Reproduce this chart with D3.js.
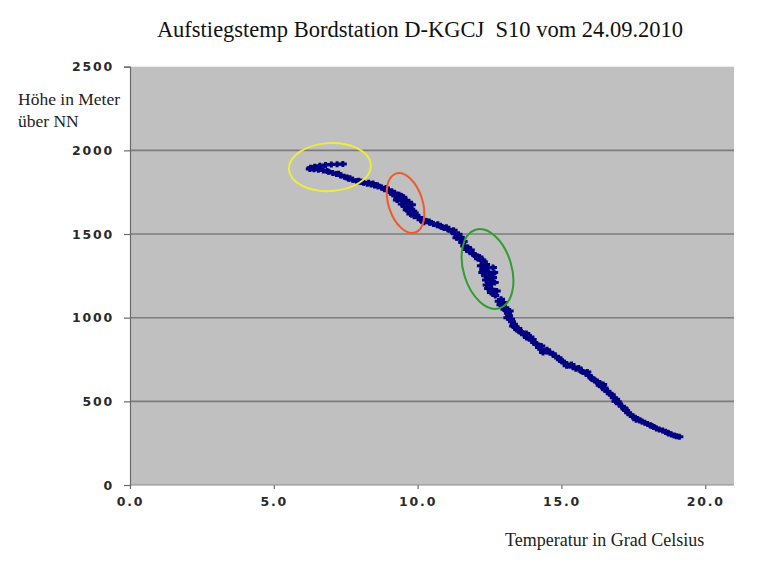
<!DOCTYPE html>
<html>
<head>
<meta charset="utf-8">
<script src="https://cdn.jsdelivr.net/npm/d3@7"></script>
<style>
  html, body { margin: 0; padding: 0; background: #ffffff; }
  svg { display: block; }
</style>
</head>
<body>
<svg id="chart" width="768" height="569"></svg>
<script>
// ---------------- data ----------------
const titleText = "Aufstiegstemp Bordstation D-KGCJ  S10 vom 24.09.2010";
const yAxisTitle = ["Höhe in Meter", "über NN"];
const xAxisTitle = "Temperatur in Grad Celsius";

const xTicks = [0, 5, 10, 15, 20];
const yTicks = [0, 500, 1000, 1500, 2000, 2500];

// Temperature (°C) of each logged sample
const temperature = [
  7.40,7.20,7.00,6.80,6.60,6.42,6.28,6.25,6.40,6.55,6.72,6.90,7.05,7.18,7.32,7.45,7.60,7.74,7.88,8.00,
  8.12,8.25,8.38,8.50,8.62,8.75,8.85,8.95,9.05,9.15,9.22,9.32,9.40,9.48,9.58,9.65,9.72,9.78,9.85,9.95,
  10.05,10.18,10.30,10.42,10.55,10.68,10.80,10.92,11.05,11.18,11.30,11.40,11.47,11.55,11.62,11.70,11.80,11.92,12.05,12.18,
  12.30,12.38,12.44,12.48,12.50,12.52,12.58,12.70,12.82,12.95,13.08,13.18,13.28,13.38,13.52,13.70,13.88,14.05,14.22,14.40,
  14.60,14.80,15.02,15.25,15.50,15.75,15.95,16.15,16.33,16.52,16.68,16.82,16.96,17.10,17.25,17.40,17.56,17.72,17.90,18.10,
  18.30,18.52,18.72,18.92,19.10,
  6.35,6.60,6.85,7.25,7.55,7.95,8.30,8.60,8.90,9.10,
  9.20,9.30,9.45,9.55,9.70,9.80,9.62,9.90,9.75,9.50,9.35,
  10.10,10.40,10.70,11.00,11.25,11.35,11.50,11.60,11.75,11.85,12.00,12.15,
  12.25,12.20,12.30,12.25,12.35,12.62,12.66,12.62,12.38,12.40,12.45,12.68,12.55,12.75,
  12.90,12.98,13.05,13.20,13.12,13.25,13.35,13.50,13.60,13.78,13.80,14.00,14.15,14.30,14.30,14.50,14.70,14.90,15.10,15.35,
  15.60,15.85,15.90,16.05,16.25,16.40,16.45,16.60,16.75,16.90,17.00,17.18,17.32,17.48,17.65,17.80,18.00,18.20,18.40,18.62,
  18.82,19.00,
  7.65,8.05,8.45,9.28,9.42,9.60,9.68,9.88,10.22,10.85,11.42,12.10,12.28,12.52,12.48,12.60,13.02,13.32,13.64,14.12,
  14.48,14.95,15.40,16.10,16.50,16.88,17.20,17.60,18.15,18.70,
  12.88,13.14,13.46,13.92,14.36,15.18,15.70,16.30
];

// Altitude (m above sea level) of each logged sample
const altitude = [
  1919,1917,1915,1912,1908,1902,1896,1889,1887,1884,1880,1872,1864,1858,1850,1843,1830,1825,1815,1812,
  1806,1800,1796,1790,1784,1778,1768,1760,1750,1738,1728,1720,1712,1700,1690,1676,1660,1648,1636,1612,
  1598,1588,1578,1568,1560,1552,1546,1536,1528,1516,1502,1488,1470,1450,1428,1408,1396,1382,1366,1350,
  1334,1318,1298,1270,1240,1205,1170,1132,1098,1072,1044,1012,975,948,922,898,874,852,822,803,
  790,768,738,714,695,676,654,625,596,570,546,522,498,470,445,420,402,385,372,356,
  338,325,308,296,288,
  1893,1890,1877,1860,1838,1818,1806,1792,1775,1755,
  1745,1708,1680,1665,1690,1675,1645,1625,1620,1720,1735,
  1585,1575,1558,1540,1522,1478,1480,1455,1420,1405,1375,1362,
  1345,1310,1290,1270,1250,1300,1270,1240,1225,1195,1175,1210,1150,1160,
  1110,1090,1060,1040,1000,990,960,935,915,905,882,870,840,830,812,808,784,760,732,720,
  700,668,675,640,618,588,600,560,540,512,485,460,432,410,395,380,365,346,332,318,
  302,292,
  1834,1812,1802,1704,1728,1702,1640,1606,1570,1542,1498,1352,1285,1225,1188,1262,1050,950,908,842,
  798,748,705,632,580,500,454,390,352,312,
  1078,1026,930,884,792,712,682,610
];

// Hand-drawn annotation rings (centres in data units)
const ringTemp = [6.95, 9.58, 12.43];
const ringAlt  = [1900, 1685, 1291];

// ---------------- drawing ----------------
const svg = d3.select("#chart");
const W = 768, H = 569;
const plot = { left: 130, right: 734, top: 66.7, bottom: 485 };

svg.append("rect").attr("width", W).attr("height", H).attr("fill", "#ffffff");

const x = d3.scaleLinear().domain([0, 21]).range([plot.left, plot.right]);
const y = d3.scaleLinear().domain([0, 2500]).range([plot.bottom, plot.top]);

// plot area
svg.append("rect")
  .attr("x", plot.left).attr("y", plot.top)
  .attr("width", plot.right - plot.left).attr("height", plot.bottom - plot.top)
  .attr("fill", "#c0c0c0");

// gridlines
svg.append("g").selectAll("line")
  .data(yTicks.filter(d => d > 0 && d < 2500))
  .join("line")
  .attr("x1", plot.left).attr("x2", plot.right)
  .attr("y1", d => y(d)).attr("y2", d => y(d))
  .attr("stroke", "#7c7c7c").attr("stroke-width", 1.6);

// axes
const fmtX = d => d3.format(".1f")(d);
const xAxis = svg.append("g")
  .attr("transform", `translate(0,${plot.bottom})`)
  .call(d3.axisBottom(x).tickValues(xTicks).tickFormat(fmtX).tickSize(4).tickPadding(8));
const yAxis = svg.append("g")
  .attr("transform", `translate(${plot.left},0)`)
  .call(d3.axisLeft(y).tickValues(yTicks).tickFormat(d3.format("d")).tickSize(6).tickPadding(10));

[xAxis, yAxis].forEach(g => {
  g.select(".domain").attr("stroke", "#6a6a6a").attr("stroke-width", 1.2);
  g.selectAll(".tick line").attr("stroke", "#6a6a6a").attr("stroke-width", 1.2);
  g.selectAll(".tick text")
    .attr("fill", "#2a2a2a")
    .style("font-family", "'DejaVu Sans', sans-serif")
    .style("font-weight", "bold")
    .style("font-size", "12.5px")
    .style("letter-spacing", "1.8px");
});
xAxis.select(".domain").remove();
xAxis.append("line")
  .attr("x1", plot.left).attr("x2", plot.right)
  .attr("stroke", "#8a8a8a").attr("stroke-width", 1);

// data markers
const marker = "M-4,-1.5h8v3h-8z M-1.5,-3h3v6h-3z";
svg.append("g").selectAll("path")
  .data(temperature.map((t, i) => [t, altitude[i]]))
  .join("path")
  .attr("d", marker)
  .attr("transform", d => `translate(${x(d[0])},${y(d[1])})`)
  .attr("fill", "#000080");

// annotation rings
const ringStyle = [
  { rx: 41, ry: 24, rot: -3, color: "#eeee3a" },
  { rx: 17, ry: 31, rot: -18, color: "#ee5a2a" },
  { rx: 24, ry: 41, rot: -17, color: "#2f9d2f" }
];
svg.append("g").selectAll("ellipse")
  .data(ringTemp.map((t, i) => ({ t, a: ringAlt[i], s: ringStyle[i] })))
  .join("ellipse")
  .attr("cx", 0).attr("cy", 0)
  .attr("rx", d => d.s.rx).attr("ry", d => d.s.ry)
  .attr("transform", d => `translate(${x(d.t)},${y(d.a)}) rotate(${d.s.rot})`)
  .attr("fill", "none")
  .attr("stroke", d => d.s.color)
  .attr("stroke-width", 2);

// titles
svg.append("text")
  .attr("x", 420).attr("y", 37)
  .attr("text-anchor", "middle")
  .style("font-family", "'Liberation Serif', 'Times New Roman', serif")
  .style("font-size", "22.5px")
  .style("white-space", "pre")
  .attr("fill", "#111")
  .text(titleText);

svg.append("g").selectAll("text")
  .data(yAxisTitle)
  .join("text")
  .attr("x", 18).attr("y", (d, i) => 105 + i * 22)
  .style("font-family", "'Liberation Serif', 'Times New Roman', serif")
  .style("font-size", "17.5px")
  .attr("fill", "#222")
  .text(d => d);

svg.append("text")
  .attr("x", 505).attr("y", 546)
  .style("font-family", "'Liberation Serif', 'Times New Roman', serif")
  .style("font-size", "18px")
  .attr("fill", "#222")
  .text(xAxisTitle);
</script>
</body>
</html>
